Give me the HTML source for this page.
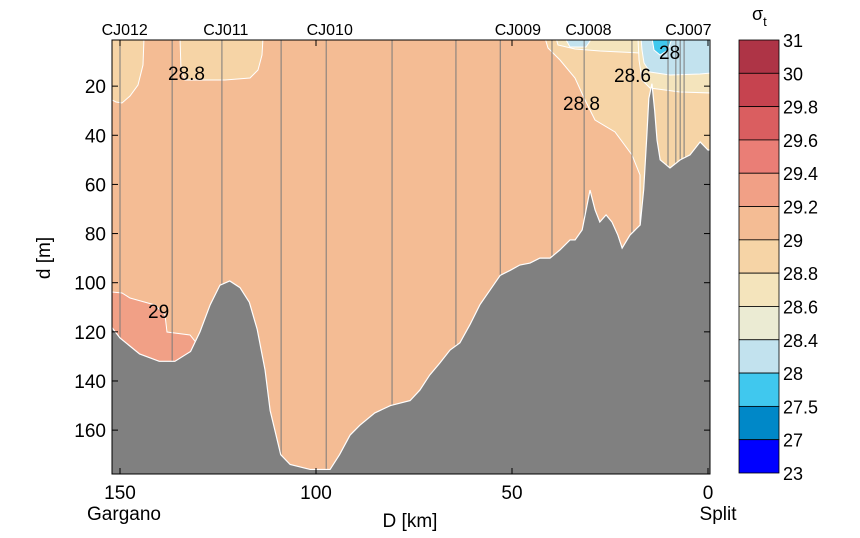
<!DOCTYPE html>
<html><head><meta charset="utf-8"><style>
body{margin:0;background:#fff;}
svg text{font-family:"Liberation Sans",Arial,sans-serif;}
</style></head><body>
<svg id="c" width="860" height="533" xmlns="http://www.w3.org/2000/svg"></svg>
<script>
const bathyDist=[155,152,150,145,140,136,132,129.6,127,124.5,122,119.4,117,115,113,111.7,110.5,109,106.6,101.5,96.4,94,91.3,88.8,85,81,76,73.5,71,68.4,65.8,63.3,60.7,58.2,55.6,53,50.5,48,45.4,42.9,40.3,37.8,35.2,33.9,32.1,30.1,28.8,27.6,26,24.5,23,21.9,19.9,17.3,16.4,15.6,15.1,14.3,13.6,13,12.2,9.7,7.1,4.6,2,0,-1];
const bathyDepth=[116,118.4,122.5,129,132,132,128,120,109,101,99.3,102,108,119,135.5,152,160,170,174,176,176,170,162,158,153,150,148,143.7,137.6,132.7,127.4,124.5,117,109,103,97,95,92.8,92,90,90,86.7,82.6,82.6,78.5,62.3,70.4,75.3,72.4,75.3,80.6,85.9,80.6,76.5,62,40,25,19,30,42,50,53.3,50,48,42.7,46,46];
const stationDist=[150,136.7,124,108.9,97.4,80.6,64.3,53,39.8,31.6,19.4,10.2,8.2,7.1,6.1];
const stationNames=["CJ012","CJ011","CJ010","CJ009","CJ008","CJ007"];
const stationLabelDist=[148.8,123,96.5,48.5,30.5,5];
const xTicks=[150,100,50,0];
const yTicks=[20,40,60,80,100,120,140,160];
const cbLabels=["31","30","29.8","29.6","29.4","29.2","29","28.8","28.6","28.4","28","27.5","27","23"];
const cbColors=["#ae3446","#c6434f","#da5e60","#ea7e76","#f1a086","#f4bc94","#f6d4a6","#f4e4bc","#ebebd3","#c2e2ee","#40c8ee","#0088c8","#0000ff"];
const contourLabels=["28.8","28","28.6","28.8","29"];

const X0=112,X1=710,Y0=40,Y1=474;
const xs=d=>708-d*3.92;
const ys=m=>37+m*2.457;
const svg=document.getElementById('c');
const NS="http://www.w3.org/2000/svg";
function el(t,a,p){const e=document.createElementNS(NS,t);for(const k in a)e.setAttribute(k,a[k]);(p||svg).appendChild(e);return e;}

const defs=el('defs',{});
const cp=el('clipPath',{id:'pc'},defs);
el('rect',{x:X0,y:Y0,width:X1-X0,height:Y1-Y0},cp);
const g=el('g',{'clip-path':'url(#pc)'});



let r=el('rect',{x:X0,y:Y0,width:X1-X0,height:Y1-Y0,fill:cbColors[5]},g);


const regions=[
 ["#f6d4a6","112,38 144,38 143,65 138,85 130,96 122,103 116,102 112,100","contour-28-8-left"],
 ["#f6d4a6","180,38 263,38 262,55 258,70 250,78 225,80 185,80 181,70","contour-28-8-mid"],
 ["#f1a086","112,292 122,293 130,298 155,305 165,315 167,332 190,335 198,345 200,370 112,370","contour-29-2-bottom"],
 ["#f6d4a6","545,38 712,38 712,240 640,240 640,175 632,155 615,132 595,120 585,100 575,78 560,60 548,48","contour-28-8-right"],
 ["#f4e4bc","556,38 640,38 640,53 600,51 575,49 558,45","contour-28-6-top"],
 ["#f4e4bc","638,38 712,38 712,93 680,92 650,88 642,80 639,60","contour-28-6-right"],
 ["#c2e2ee","641,38 712,38 712,73 700,74 670,75 650,72 644,63 642,50","contour-28-4-right"],
 ["#c2e2ee","565,38 592,38 586,47 570,47","contour-28-4-top"],
 ["#40c8ee","652,38 672,38 668,50 660,55 654,50","contour-28-core"]
];
regions.forEach(([c,p,n])=>{const e=el('polygon',{points:p,fill:c,stroke:'#fff','stroke-width':1},g);
});

stationDist.forEach((d,i)=>{const e=el('line',{x1:xs(d),x2:xs(d),y1:Y0,y2:Y1,stroke:'#7a7a7a','stroke-width':1},g);
});

let pts=bathyDist.map((d,i)=>xs(d)+','+ys(bathyDepth[i])).join(' ');
pts+=' '+xs(-1)+',480 '+xs(155)+',480';
const b=el('polygon',{points:pts,fill:'#808080',stroke:'#fff','stroke-width':1.2},g);


const clPos=[[168,80],[659,59],[614,82],[563,110],[148,318]];
contourLabels.forEach((t,i)=>{const e=el('text',{x:clPos[i][0],y:clPos[i][1],'font-size':19,fill:'#000'},g);e.textContent=t;
});

const f=el('rect',{x:X0,y:Y0,width:X1-X0,height:Y1-Y0,fill:'none',stroke:'#000','stroke-width':1});


xTicks.forEach(v=>{const x=xs(v);
el('line',{x1:x,x2:x,y1:Y1,y2:Y1-6,stroke:'#000'});el('line',{x1:x,x2:x,y1:Y0,y2:Y0+6,stroke:'#000'});
const t=el('text',{x:x,y:499,'font-size':19,'text-anchor':'middle'});t.textContent=v;
});
yTicks.forEach(v=>{const y=ys(v);
el('line',{x1:X0,x2:X0+6,y1:y,y2:y,stroke:'#000'});el('line',{x1:X1,x2:X1-6,y1:y,y2:y,stroke:'#000'});
const t=el('text',{x:106,y:y+7,'font-size':19,'text-anchor':'end'});t.textContent=v;
});

stationNames.forEach((n,i)=>{const t=el('text',{x:xs(stationLabelDist[i]),y:35,'font-size':16,'text-anchor':'middle'});t.textContent=n;
});

let t=el('text',{x:124,y:520,'font-size':19,'text-anchor':'middle'});t.textContent='Gargano';

t=el('text',{x:718,y:520,'font-size':19,'text-anchor':'middle'});t.textContent='Split';

t=el('text',{x:410,y:527,'font-size':19,'text-anchor':'middle'});t.textContent='D [km]';

t=el('text',{x:50,y:258,'font-size':19,'text-anchor':'middle',transform:'rotate(-90 50 258)'});t.textContent='d [m]';


const cbX=739,cbW=40,cbY0=40,cbH=433,bh=cbH/cbColors.length;
cbColors.forEach((c,i)=>{const e=el('rect',{x:cbX,y:cbY0+i*bh,width:cbW,height:bh,fill:c,stroke:'#000','stroke-width':0.8});
});
cbLabels.forEach((l,i)=>{const e=el('text',{x:783,y:cbY0+i*bh+7,'font-size':18});e.textContent=l;
});
t=el('text',{x:752,y:20,'font-size':18});t.textContent='σ';

const s=el('tspan',{'font-size':13,dy:6},t);s.textContent='t';
</script>
</body></html>
